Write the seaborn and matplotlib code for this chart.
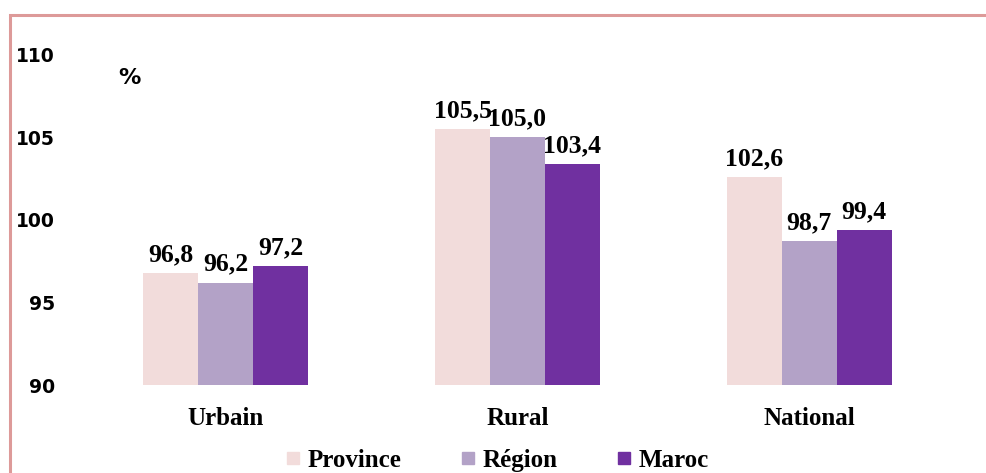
import matplotlib
matplotlib.use("Agg")
import matplotlib.pyplot as plt
import seaborn as sns
import pandas as pd
from matplotlib.patches import Rectangle
from matplotlib.lines import Line2D

categories = ["Urbain", "Rural", "National"]
series = ["Province", "Région", "Maroc"]
province = [96.8, 105.5, 102.6]
region = [96.2, 105.0, 98.7]
maroc = [97.2, 103.4, 99.4]
colors = ["#F2DCDB", "#B3A2C7", "#7030A0"]
yticks = [90, 95, 100, 105, 110]

rows = []
for s, vals in zip(series, [province, region, maroc]):
    for c, v in zip(categories, vals):
        rows.append({"cat": c, "serie": s, "val": v})
df = pd.DataFrame(rows)

sns.set_theme(style="white")
plt.rcParams["text.color"] = "black"
plt.rcParams["xtick.color"] = "black"
plt.rcParams["ytick.color"] = "black"
plt.rcParams["axes.labelcolor"] = "black"

fig = plt.figure(figsize=(9.86, 4.73), dpi=100)
ax = fig.add_axes([80/986, 1-385/473, 875/986, 330/473])

sns.barplot(data=df, x="cat", y="val", hue="serie", order=categories,
            hue_order=series, palette=colors, width=0.565, gap=0,
            saturation=1, legend=False, ax=ax, linewidth=0)

ax.set_ylim(90, 110)
ax.set_xlim(-0.5, 2.5)
ax.set_yticks(yticks)
ax.set_yticklabels([str(t) for t in yticks], fontsize=13.5, fontweight="bold",
                   family="DejaVu Sans", color="black")
ax.tick_params(axis="y", length=0, pad=18)
ax.tick_params(axis="x", length=0, pad=16)
for lab in ax.get_xticklabels():
    lab.set_fontfamily("Liberation Serif")
    lab.set_fontweight("bold")
    lab.set_fontsize(18)
    lab.set_color("black")
ax.set_xlabel("")
ax.set_ylabel("")
for sp in ax.spines.values():
    sp.set_visible(False)

for cont in ax.containers:
    labels = [f"{b.get_height():.1f}".replace(".", ",") for b in cont]
    ax.bar_label(cont, labels=labels, padding=5, fontsize=18.5,
                 fontweight="bold", family="Liberation Serif", color="black")

fig.text(129/986, 1-78/473, "%", fontsize=16, fontweight="bold",
         family="DejaVu Sans", ha="center", va="center", color="black")

handles = [Line2D([0], [0], marker="s", linestyle="none", markersize=8,
                  markerfacecolor=c, markeredgecolor=c) for c in colors]
leg = fig.legend(handles, series, loc="center", bbox_to_anchor=(0.505, 1-460/473),
                 ncol=3, frameon=False, columnspacing=2.4, handlelength=0.5,
                 handletextpad=0.35,
                 prop={"family": "Liberation Serif", "weight": "bold", "size": 18})
for t in leg.get_texts():
    t.set_color("black")

fig.patches.append(Rectangle((10/986, -0.1), 1.2, 1.1-15/473,
                             transform=fig.transFigure, fill=False,
                             edgecolor="#DD9A99", linewidth=2.2))

fig.savefig("out.png", dpi=100)
